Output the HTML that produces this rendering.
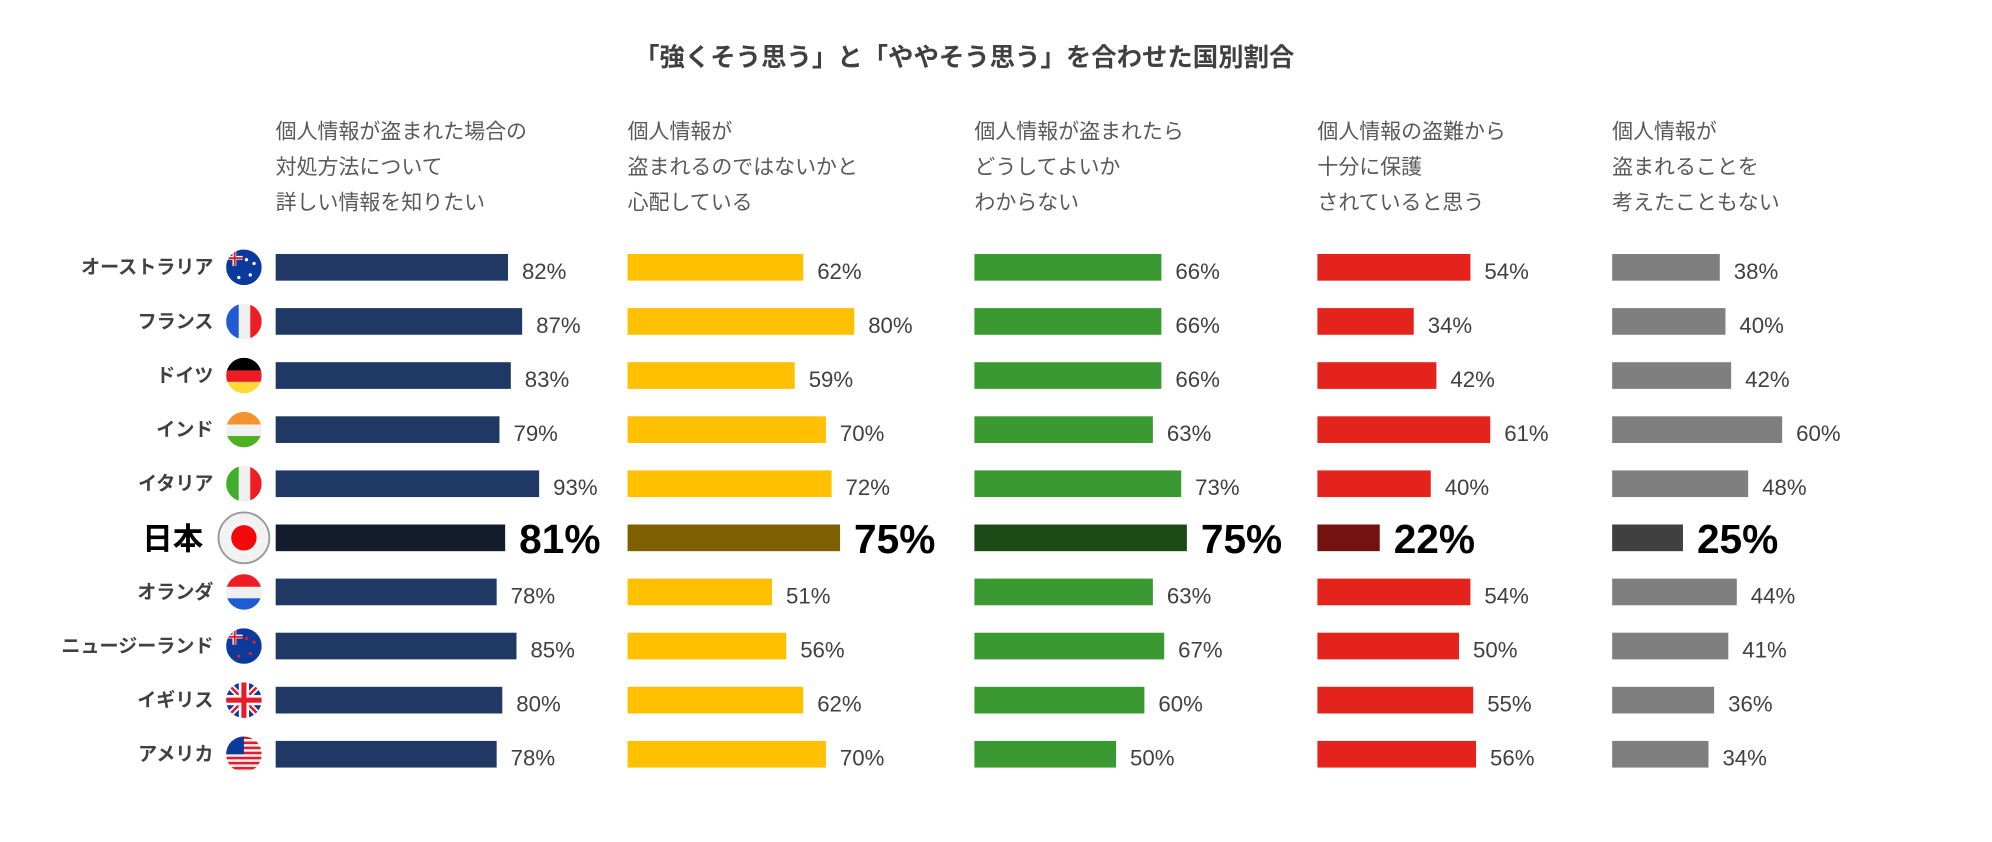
<!DOCTYPE html>
<html><head><meta charset="utf-8">
<style>
html,body{margin:0;padding:0;background:#fff;}
svg{display:block;font-family:"Liberation Sans","Noto Sans CJK JP",sans-serif;}
</style></head>
<body>
<svg id="chart" width="1992" height="842" viewBox="0 0 1568 663" preserveAspectRatio="none" xmlns="http://www.w3.org/2000/svg">
<text x="759" y="52" text-anchor="middle" font-size="20" font-weight="bold" fill="#404040">「強くそう思う」と「ややそう思う」を合わせた国別割合</text>
<g id="g"></g>
</svg>
<script>
const countries = ["オーストラリア","フランス","ドイツ","インド","イタリア","日本","オランダ","ニュージーランド","イギリス","アメリカ"];
const flags = ["au","fr","de","in","it","jp","nl","nz","gb","us"];
const headers = [
 ["個人情報が盗まれた場合の","対処方法について","詳しい情報を知りたい"],
 ["個人情報が","盗まれるのではないかと","心配している"],
 ["個人情報が盗まれたら","どうしてよいか","わからない"],
 ["個人情報の盗難から","十分に保護","されていると思う"],
 ["個人情報が","盗まれることを","考えたこともない"]
];
const s1 = [82,87,83,79,93,81,78,85,80,78];
const s2 = [62,80,59,70,72,75,51,56,62,70];
const s3 = [66,66,66,63,73,75,63,67,60,50];
const s4 = [54,34,42,61,40,22,54,50,55,56];
const s5 = [38,40,42,60,48,25,44,41,36,34];
const series = [s1,s2,s3,s4,s5];
const colors = ["#203864","#ffc000","#3a9a31","#e4231c","#7f7f7f"];
const jpColors = ["#121c2c","#7f6000","#1d4b18","#731211","#404040"];
const colX = [217,494,767,1037,1269];
const jpIndex = 5;
const NS="http://www.w3.org/2000/svg";
const g=document.getElementById('g');
function el(t,a,txt){const e=document.createElementNS(NS,t);for(const k in a)e.setAttribute(k,a[k]);if(txt!==undefined)e.textContent=txt;g.appendChild(e);return e;}
function xs(v){return v*2.23;}
function yc(i){return 210.5+i*42.6;}
headers.forEach((h,c)=>{h.forEach((line,l)=>{
 const t=el('text',{x:colX[c],y:109+l*28,'font-size':16.5,fill:'#595959'},line);
 
 
});});
countries.forEach((name,i)=>{
 const jp=i===jpIndex;
 const t=el('text',{x:jp?160:168,y:yc(i)+(jp?9:5),'text-anchor':'end','font-size':jp?24:15,'font-weight':'bold',fill:jp?'#000':'#404040'},name);
 
 
 const cx=192,cy=yc(i),r=jp?19:14;
 if(jp){const ring=el('circle',{cx,cy,r:20,fill:'#f2f2f2',stroke:'#999','stroke-width':1.5});}
 const f=flags[i];
 const clipId='c'+i;
 const cp=el('clipPath',{id:clipId});g.removeChild(cp);
 const cc=document.createElementNS(NS,'circle');cc.setAttribute('cx',cx);cc.setAttribute('cy',cy);cc.setAttribute('r',jp?13:14);cp.appendChild(cc);g.appendChild(cp);
 const fg=document.createElementNS(NS,'g');fg.setAttribute('clip-path','url(#'+clipId+')');g.appendChild(fg);
 
 
 function R(x,y,w,h,c){const e=document.createElementNS(NS,'rect');e.setAttribute('x',x);e.setAttribute('y',y);e.setAttribute('width',w);e.setAttribute('height',h);e.setAttribute('fill',c);fg.appendChild(e);}
 const L=cx-14,T=cy-14;
 if(f==='fr'){R(L,T,10,28,'#1f5bd1');R(L+10,T,9,28,'#f0f0f0');R(L+19,T,9,28,'#ee1c25');}
 else if(f==='it'){R(L,T,10,28,'#3fae2a');R(L+10,T,9,28,'#f0f0f0');R(L+19,T,9,28,'#ee1c25');}
 else if(f==='de'){R(L,T,28,10,'#000');R(L,T+10,28,9,'#ee1c25');R(L,T+19,28,9,'#ffd935');}
 else if(f==='in'){R(L,T,28,10,'#f4922e');R(L,T+10,28,9,'#f0f0f0');R(L,T+19,28,9,'#4cb01f');}
 else if(f==='nl'){R(L,T,28,10,'#ee1c25');R(L,T+10,28,9,'#f0f0f0');R(L,T+19,28,9,'#1f5bd1');}
 else if(f==='jp'){R(L-5,T-5,38,38,'#f5f5f5');const d=document.createElementNS(NS,'circle');d.setAttribute('cx',cx);d.setAttribute('cy',cy);d.setAttribute('r',10);d.setAttribute('fill','#f20a0a');fg.appendChild(d);}
 else if(f==='au'||f==='nz'){R(L,T,28,28,'#0b3a9c');R(L,T,13,13,'#0b3a9c');R(L,T+5,13,3,'#fff');R(L+5,T,3,13,'#fff');R(L,T+6,13,1.5,'#e51a2a');R(L+6,T,1.5,13,'#e51a2a');
  [[cx+5,cy+6],[cx+8,cy-3],[cx-4,cy+8],[cx+2,cy-6]].forEach(p=>{const s=document.createElementNS(NS,'circle');s.setAttribute('cx',p[0]);s.setAttribute('cy',p[1]);s.setAttribute('r',1.3);s.setAttribute('fill',f==='nz'?'#e51a2a':'#fff');fg.appendChild(s);});}
 else if(f==='gb'){R(L,T,28,28,'#0b3a9c');
  const d1=document.createElementNS(NS,'path');d1.setAttribute('d',`M${L} ${T}L${L+28} ${T+28}M${L+28} ${T}L${L} ${T+28}`);d1.setAttribute('stroke','#fff');d1.setAttribute('stroke-width',5);fg.appendChild(d1);
  const d2=d1.cloneNode();d2.setAttribute('stroke','#e51a2a');d2.setAttribute('stroke-width',2);fg.appendChild(d2);
  R(L,cy-4,28,8,'#fff');R(cx-4,T,8,28,'#fff');R(L,cy-2,28,4,'#e51a2a');R(cx-2,T,4,28,'#e51a2a');}
 else if(f==='us'){R(L,T,28,28,'#f0f0f0');for(let k=0;k<7;k++)R(L,T+k*4,28,2,'#e51a2a');R(L,T,14,14,'#0b3a9c');}
 series.forEach((s,c)=>{
  const w=xs(s[i]);
  const b=el('rect',{x:colX[c],y:yc(i)-10.5,width:w,height:21,fill:jp?jpColors[c]:colors[c]});
  
  
  const lt=el('text',{x:colX[c]+w+11,y:yc(i)+(jp?12:9),'font-size':jp?32:17.5,'font-weight':jp?'bold':'normal',fill:jp?'#000':'#404040'},s[i]+'%');
  
  
 });
});
</script>
</body></html>
